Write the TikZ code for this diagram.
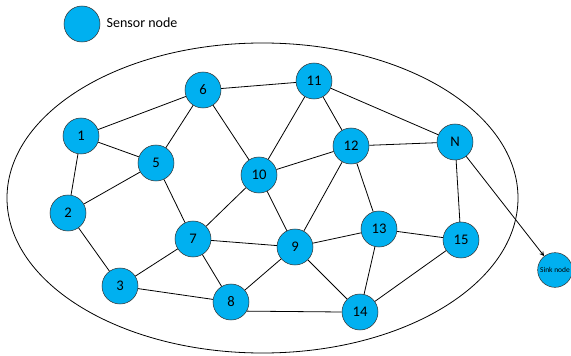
\documentclass[tikz,border=0pt]{standalone}
\usepackage{fontspec}
\setmainfont{Carlito}
\usetikzlibrary{arrows}
\definecolor{nodeblue}{HTML}{00B0F0}
\tikzstyle{arrow} = [->,>=stealth]

\begin{document}
\begin{tikzpicture}
        [
            x=0.75pt, y=-0.75pt,
            sensor/.style={circle,draw=black!80,fill=nodeblue,minimum size=27pt,inner sep=0pt,font=\fontsize{11}{12}\selectfont},
            link/.style={black,line width=0.6pt},
        ]
    \useasboundingbox (0,0) rectangle (571,356);

    % legend
    \node[sensor] (legend) at (82,24){};
    \node[anchor=west,font=\fontsize{10.5}{12}\selectfont] (legendtext) at (102,23){Sensor node};

    % field
    \draw[line width=0.6pt] (262.5,198) ellipse [x radius=255.5, y radius=155];

    \node[sensor] (n1) at (81,136){1};
    \node[sensor] (n2) at (68,213){2};
    \node[sensor] (n3) at (120,286){3};
    \node[sensor] (n5) at (156,163){5};
    \node[sensor] (n6) at (203,90){6};
    \node[sensor] (n7) at (193,239){7};
    \node[sensor] (n8) at (231,302){8};
    \node[sensor] (n9) at (295,247){9};
    \node[sensor] (n10) at (259,175){10};
    \node[sensor] (n11) at (314,81){11};
    \node[sensor] (n12) at (351,146){12};
    \node[sensor] (n13) at (379,229){13};
    \node[sensor] (n14) at (360,312){14};
    \node[sensor] (n15) at (461,240){15};
    \node[sensor] (nN) at (455,142){N};
    \node[sensor,minimum size=26pt,font=\fontsize{5.6}{6}\selectfont] (sink) at (555,270){Sink node};

    \foreach \a/\b in {n1/n6,n1/n5,n1/n2,n2/n5,n2/n3,n5/n6,n5/n7,n6/n10,n6/n11,
        n7/n10,n7/n3,n7/n8,n7/n9,n8/n9,n8/n3,n8.-30/n14.west,n9/n10,n9/n12,n9/n13,n9/n14,
        n10/n11,n10/n12,n11/n12,n11/nN,n12/nN,n12/n13,n13/n14,n13/n15,n14/n15,nN/n15}
        \draw[link] (\a) -- (\b);

    \draw[arrow,link] (nN) -- (sink);
    \end{tikzpicture}
\end{document}
